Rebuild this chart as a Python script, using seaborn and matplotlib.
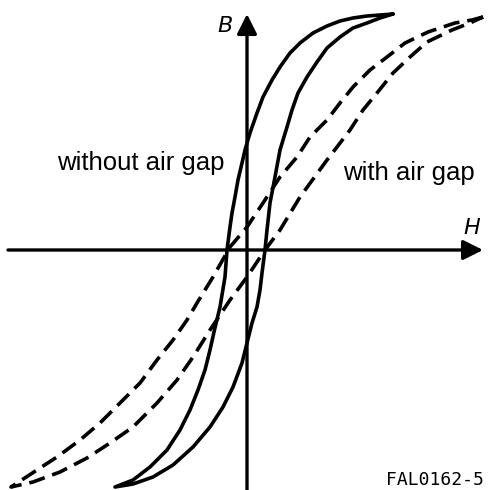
import matplotlib
matplotlib.use('Agg')
import matplotlib.pyplot as plt
import seaborn as sns
import pandas as pd

# loop without air gap (solid): descending branch (top tip -> bottom tip)
h_solid_down = [146, 133, 120, 106, 93, 80, 66, 53, 43, 33, 25, 16, 10, 3, -2, -5, -9, -12, -15, -17,
                -20, -22, -27, -33, -37, -42, -49, -57, -67, -80, -97, -114, -132]
b_solid_down = [236, 235, 234, 232, 229, 224, 217, 207, 197, 183, 170, 153, 137, 117, 100, 87, 70, 53, 37, 23,
                0, -27, -57, -82, -100, -120, -140, -160, -180, -200, -217, -230, -237]
# ascending branch (bottom tip -> top tip)
h_solid_up = [-132, -114, -94, -74, -54, -37, -24, -14, -5, 0, 5, 10, 13, 15, 18, 20, 23, 28, 33,
              40, 45, 51, 60, 70, 80, 93, 106, 120, 133, 146]
b_solid_up = [-237, -234, -227, -215, -197, -177, -157, -137, -113, -93, -73, -57, -40, -23, 0, 20, 47, 73, 100,
              123, 140, 157, 173, 188, 202, 213, 222, 227, 232, 236]

# loop with air gap (dashed)
h_gap_down = [236, 225, 208, 181, 158, 140, 123, 106, 93, 80, 63, 50, 33, 16, 0, -17, -34, -50, -60,
              -74, -90, -107, -127, -147, -167, -190, -210, -236]
b_gap_down = [233, 230, 227, 218, 207, 193, 180, 163, 147, 130, 113, 93, 73, 47, 23, 3, -27, -53, -70,
              -90, -110, -133, -153, -173, -190, -207, -220, -237]
h_gap_up = [-236, -214, -187, -160, -137, -114, -90, -70, -54, -37, -17, 0, 18, 33, 53, 80, 90, 103,
            116, 130, 146, 163, 180, 205, 223, 236]
b_gap_up = [-237, -232, -222, -208, -193, -177, -153, -130, -107, -80, -50, -27, 0, 20, 53, 90, 103, 120,
            140, 157, 177, 193, 208, 220, 227, 233]

df = pd.concat([
    pd.DataFrame({'H': h_solid_down + h_solid_up, 'B': b_solid_down + b_solid_up, 'loop': 'without air gap'}),
    pd.DataFrame({'H': h_gap_down + h_gap_up, 'B': b_gap_down + b_gap_up, 'loop': 'with air gap'}),
], ignore_index=True)

sns.set_style('white')

fig = plt.figure(figsize=(4.88, 4.90), dpi=100)
ax = fig.add_axes([0, 0, 1, 1])
ax.set_xlim(-247, 241)
ax.set_ylim(-240, 250)
ax.axis('off')

sns.lineplot(data=df, x='H', y='B', style='loop', sort=False, estimator=None,
             dashes={'without air gap': '', 'with air gap': (4.5, 2.2)},
             color='black', linewidth=2.6, legend=False, ax=ax)

# axes with arrow heads
arrow = dict(arrowstyle='-|>,head_length=0.6,head_width=0.3', lw=2.4, color='black',
             mutation_scale=20, shrinkA=0, shrinkB=0)
ax.annotate('', xy=(236, 0), xytext=(-239, 0), arrowprops=arrow)
ax.annotate('', xy=(0, 236), xytext=(0, -240), arrowprops=arrow)

ax.text(-14, 218, 'B', fontsize=16, style='italic', ha='right', va='baseline', color='black')
ax.text(233, 16, 'H', fontsize=16, style='italic', ha='right', va='baseline', color='black')
ax.text(-190, 80, 'without air gap', fontsize=18.5, family='Liberation Sans', va='baseline', color='black')
ax.text(96, 70, 'with air gap', fontsize=18.5, family='Liberation Sans', va='baseline', color='black')
ax.text(237, -235, 'FAL0162-5', fontsize=13, family='DejaVu Sans Mono', ha='right', va='baseline',
        color='black')

fig.savefig('out.png', dpi=100)
